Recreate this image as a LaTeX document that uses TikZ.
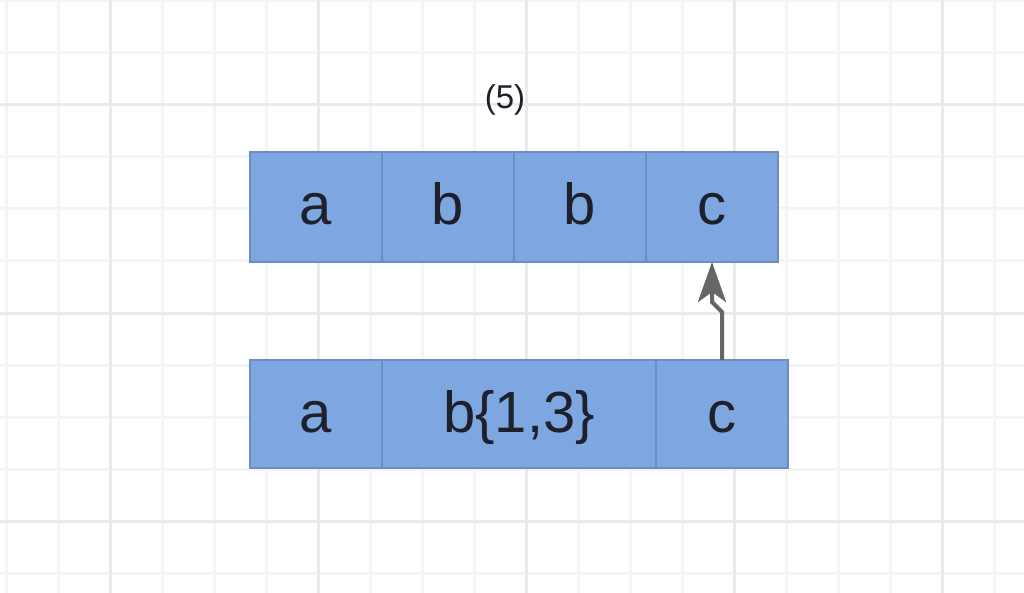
\documentclass[tikz,border=0pt]{standalone}
\usepackage{fontspec}
\setmainfont{Liberation Sans}
\usetikzlibrary{positioning,calc,arrows.meta}
\definecolor{cellFill}{RGB}{126,166,224}
\definecolor{cellLine}{RGB}{108,142,191}
\definecolor{cellText}{RGB}{30,32,44}
\definecolor{minorGrid}{RGB}{244,244,244}
\definecolor{majorGrid}{RGB}{234,234,234}
\definecolor{arrowColor}{RGB}{102,102,102}
\tikzset{
  cell/.style = {draw=cellLine, fill=cellFill, line width=2.5pt, inner sep=0pt, outer sep=0pt,
                 minimum height=#1, text height=38pt, text depth=2pt,
                 text=cellText, font=\fontsize{58}{60}\selectfont},
  cell/.default = 110pt,
  minorLine/.style = {color=minorGrid, line width=3pt},
  majorLine/.style = {color=majorGrid, line width=3pt},
  link/.style = {draw=arrowColor, line width=4pt, -{Stealth[length=40pt,width=28pt,inset=10pt]}},
  caption/.style = {text=cellText, font=\fontsize{33}{36}\selectfont}
}
\begin{document}
\begin{tikzpicture}[x=1pt, y=-1pt]
  \useasboundingbox (0,0) rectangle (1024,593);
  \fill[white] (0,0) rectangle (1024,593);
  % background grid
  \foreach \gx in {0,...,19} \draw[minorLine] (6 + 52*\gx, 0) -- (6 + 52*\gx, 593);
  \foreach \gy in {0,...,11} \draw[minorLine] (0, 1 + 52*\gy) -- (1024, 1 + 52*\gy);
  \foreach \gx in {0,...,4} \draw[majorLine] (110 + 208*\gx, 0) -- (110 + 208*\gx, 593);
  \foreach \gy in {0,...,2} \draw[majorLine] (0, 105 + 208*\gy) -- (1024, 105 + 208*\gy);

  % upper string
  \node[caption] (step) at (505,100) {(5)};
  \node[cell, minimum width=132pt, anchor=north west] (a1) at (250,152) {a};
  \node[cell, minimum width=132pt, right=0pt of a1] (b1) {b};
  \node[cell, minimum width=132pt, right=0pt of b1] (b2) {b};
  \node[cell, minimum width=132pt, right=0pt of b2] (c1) {c};

  % lower pattern
  \node[cell=108pt, minimum width=132pt, anchor=north west] (a2) at (250,360) {a};
  \node[cell=108pt, minimum width=274pt, right=0pt of a2] (bq) {b\{1,3\}};
  \node[cell=108pt, minimum width=132pt, right=0pt of bq] (c2) {c};

  \draw[link] (c2.north) -- ++(0,-48) -- ($(c1.south)+(0,40)$) -- (c1.south);
\end{tikzpicture}
\end{document}
